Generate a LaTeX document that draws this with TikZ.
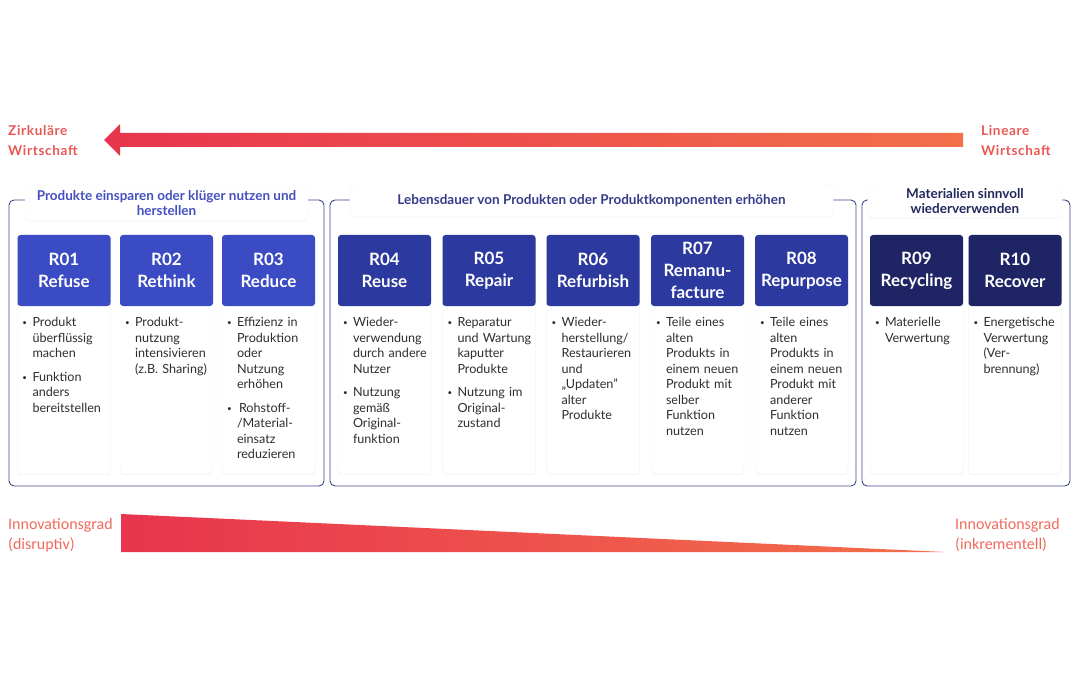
\documentclass[tikz,border=0pt]{standalone}
\usepackage{fontspec}
\setmainfont{Lato}
\newfontfamily\wfont[LetterSpace=5]{Lato}
\newfontfamily\cfont{Carlito}
\usetikzlibrary{shadows}
\definecolor{arrL}{HTML}{E8344E}
\definecolor{arrR}{HTML}{F2704A}
\definecolor{lblred}{HTML}{EA5752}
\definecolor{lblinno}{HTML}{EF6A5C}
\definecolor{rone}{HTML}{3B4BC4}
\definecolor{rtwo}{HTML}{2C399E}
\definecolor{rthree}{HTML}{1F2465}
\definecolor{grpline}{HTML}{3F4585}
\definecolor{gtone}{HTML}{4450C0}
\definecolor{gttwo}{HTML}{353C8A}
\definecolor{gtthree}{HTML}{22285E}
\newcommand{\bitem}[1]{\noindent\makebox[10pt][l]{\raisebox{1pt}{\fontsize{8}{8}\selectfont •}}\begin{tabular}[t]{@{}l@{}}#1\end{tabular}\par}

\begin{document}
\begin{tikzpicture}[x=1pt,y=-1pt,
    head/.style={fill=#1, rounded corners=3pt, minimum width=93pt, minimum height=71pt, inner sep=0pt,
      text=white, font=\fontsize{17}{22}\selectfont\bfseries, align=center},
    card/.style={fill=white, draw=black!5, rounded corners=4pt, minimum width=93pt, minimum height=239pt,
      drop shadow={opacity=0.08, shadow xshift=0pt, shadow yshift=-1pt}},
    btext/.style={anchor=north west, inner sep=0pt, text width=86pt, align=left,
      font=\fontsize{12.6}{15.5}\selectfont, text=black!82, execute at begin node={\setlength{\parskip}{7pt}}},
    grp/.style={draw=grpline, line width=0.9pt, rounded corners=5pt},
    grplab/.style={fill=white, draw=black!4, rounded corners=5pt, inner sep=0pt, align=center,
      font=\fontsize{13.5}{15}\selectfont\bfseries, drop shadow={opacity=0.06, shadow xshift=0pt, shadow yshift=-1pt}},
    wlab/.style={anchor=west, inner sep=0pt, align=left, text=lblred, font=\wfont\fontsize{13.5}{20}\selectfont\bfseries},
    ilab/.style={anchor=west, inner sep=0pt, align=left, text=lblinno, font=\cfont\fontsize{16}{20}\selectfont}]
  \useasboundingbox (0,0) rectangle (1080,674);

  % direction arrow
  \shade[left color=arrL, right color=arrR]
    (104,140) -- (120,124) -- (120,133) -- (963,133) -- (963,147) -- (120,147) -- (120,156) -- cycle;
  \node[wlab] (zirk) at (8,141) {Zirkuläre\\Wirtschaft};
  \node[wlab] (lin) at (981,141) {Lineare\\Wirtschaft};

  % groups
  \draw[grp] (9,200) rectangle (324,486);
  \draw[grp] (330,200) rectangle (856,486);
  \draw[grp] (862,200) rectangle (1070,486);
  \node[grplab, text=gtone, minimum width=283pt, minimum height=36pt] (g1) at (166.5,203)
    {Produkte einsparen oder klüger nutzen und\\herstellen};
  \node[grplab, text=gttwo, minimum width=483pt, minimum height=33pt] (g2) at (591.5,200.5)
    {Lebensdauer von Produkten oder Produktkomponenten erhöhen};
  \node[grplab, text=gtthree, minimum width=194pt, minimum height=34pt] (g3) at (965,201)
    {Materialien sinnvoll\\wiederverwenden};

  % cards
  \foreach \i/\x in {1/64,2/166.5,3/268.5,4/384.5,5/489,6/593,7/697.5,8/801.5,9/916.5,10/1015}
    \node[card] (b\i) at (\x,354.5) {};
  \foreach \i/\x/\c/\t in {1/64/rone/{R01\\Refuse}, 2/166.5/rone/{R02\\Rethink}, 3/268.5/rone/{R03\\Reduce},
      4/384.5/rtwo/{R04\\Reuse}, 5/489/rtwo/{R05\\Repair}, 6/593/rtwo/{R06\\Refurbish},
      7/697.5/rtwo/{R07\\Remanu-\\facture}, 8/801.5/rtwo/{R08\\Repurpose},
      9/916.5/rthree/{R09\\Recycling}, 10/1015/rthree/{R10\\Recover}}
    \node[head=\c] (h\i) at (\x,270.5) {\t};

  \node[btext] (t1) at ([shift={(5,81)}]b1.north west)
    {\bitem{Produkt\\überflüssig\\machen}\bitem{Funktion\\anders\\bereitstellen}};
  \node[btext] (t2) at ([shift={(5,81)}]b2.north west)
    {\bitem{Produkt-\\nutzung\\intensivieren\\(z.B. Sharing)}};
  \node[btext] (t3) at ([shift={(5,81)}]b3.north west)
    {\bitem{Effizienz in\\Produktion\\oder\\Nutzung\\erhöhen}\bitem{\kern2pt Rohstoff-\\/Material-\\einsatz\\reduzieren}};
  \node[btext] (t4) at ([shift={(5,81)}]b4.north west)
    {\bitem{Wieder-\\verwendung\\durch andere\\Nutzer}\bitem{Nutzung\\gemäß\\Original-\\funktion}};
  \node[btext] (t5) at ([shift={(5,81)}]b5.north west)
    {\bitem{Reparatur\\und Wartung\\kaputter\\Produkte}\bitem{Nutzung im\\Original-\\zustand}};
  \node[btext] (t6) at ([shift={(5,81)}]b6.north west)
    {\bitem{Wieder-\\herstellung/\\Restaurieren\\und\\„Updaten"\\alter\\Produkte}};
  \node[btext] (t7) at ([shift={(5,81)}]b7.north west)
    {\bitem{Teile eines\\alten\\Produkts in\\einem neuen\\Produkt mit\\selber\\Funktion\\nutzen}};
  \node[btext] (t8) at ([shift={(5,81)}]b8.north west)
    {\bitem{Teile eines\\alten\\Produkts in\\einem neuen\\Produkt mit\\anderer\\Funktion\\nutzen}};
  \node[btext] (t9) at ([shift={(5,81)}]b9.north west)
    {\bitem{Materielle\\Verwertung}};
  \node[btext] (t10) at ([shift={(5,81)}]b10.north west)
    {\bitem{Energetische\\Verwertung\\(Ver-\\brennung)}};

  % innovation wedge
  \shade[left color=arrL, right color=arrR] (121,514) -- (945,552) -- (121,552) -- cycle;
  \node[ilab] (disr) at (8,535) {Innovationsgrad\\(disruptiv)};
  \node[ilab] (inkr) at (955,535) {Innovationsgrad\\(inkrementell)};
\end{tikzpicture}
\end{document}
